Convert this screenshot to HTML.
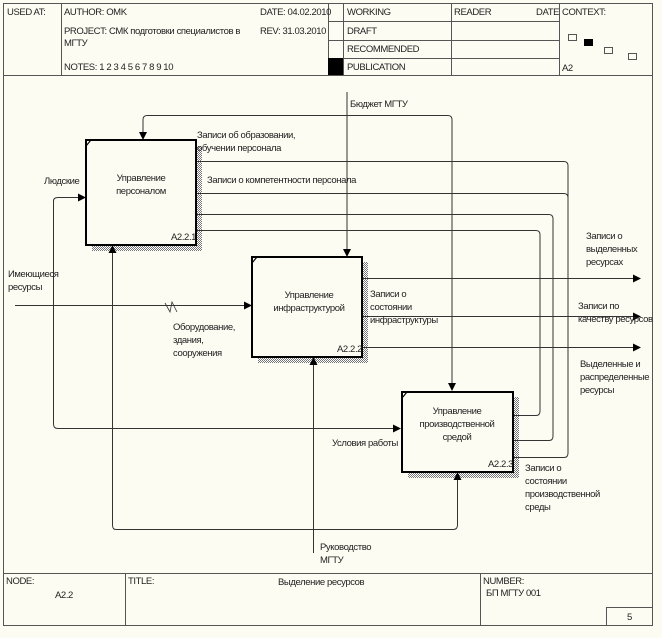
<!DOCTYPE html>
<html><head><meta charset="utf-8"><style>
html,body{margin:0;padding:0;background:#fdfcf3;}
svg{display:block;}
text{font-family:"Liberation Sans","DejaVu Sans",sans-serif;font-size:9.5px;fill:#222;letter-spacing:-0.4px;}
</style></head><body>
<svg width="662" height="638" viewBox="0 0 662 638" xmlns="http://www.w3.org/2000/svg">
<defs>
<pattern id="h" width="2" height="2" patternUnits="userSpaceOnUse"><rect width="2" height="2" fill="#fff"/><rect width="1" height="1" fill="#777"/><rect x="1" y="1" width="1" height="1" fill="#777"/></pattern>
<marker id="a" markerWidth="8" markerHeight="8" refX="7" refY="4" orient="auto" markerUnits="userSpaceOnUse"><path d="M0,0 L8,4 L0,8 z" fill="#000"/></marker>
</defs>
<rect x="0" y="0" width="662" height="638" fill="#fdfcf3"/>
<g stroke="#555" fill="none" stroke-width="1">
<rect x="3.5" y="3.5" width="649" height="622"/>
<line x1="3" y1="75.5" x2="653" y2="75.5"/>
<line x1="61.5" y1="3" x2="61.5" y2="75"/>
<line x1="328.5" y1="3" x2="328.5" y2="75"/>
<line x1="343.5" y1="3" x2="343.5" y2="75"/>
<line x1="451.5" y1="3" x2="451.5" y2="75"/>
<line x1="559.5" y1="3" x2="559.5" y2="75"/>
<line x1="328" y1="21.5" x2="559" y2="21.5"/>
<line x1="328" y1="40.5" x2="559" y2="40.5"/>
<line x1="328" y1="58.5" x2="559" y2="58.5"/>
<line x1="3" y1="573.5" x2="653" y2="573.5"/>
<line x1="125.5" y1="573" x2="125.5" y2="625"/>
<line x1="480.5" y1="573" x2="480.5" y2="625"/>
<rect x="606.5" y="607.5" width="46" height="18"/>
<rect x="568.5" y="34.5" width="8" height="6"/>
<rect x="604.5" y="47.5" width="8" height="6"/>
<rect x="628.5" y="53.5" width="8" height="6"/>
</g>
<rect x="328" y="58" width="15" height="17" fill="#000"/>
<rect x="584" y="39" width="9" height="7" fill="#000"/>
<text x="7" y="15">USED AT:</text>
<text x="64" y="15">AUTHOR:  OMK</text>
<text x="260" y="15">DATE:  04.02.2010</text>
<text x="64" y="34">PROJECT:  СМК подготовки специалистов в</text>
<text x="64" y="46">МГТУ</text>
<text x="260" y="34">REV:   31.03.2010</text>
<text x="64" y="70">NOTES:  1  2  3  4  5  6  7  8  9  10</text>
<text x="347" y="15">WORKING</text>
<text x="347" y="34">DRAFT</text>
<text x="347" y="52">RECOMMENDED</text>
<text x="347" y="70">PUBLICATION</text>
<text x="454" y="15">READER</text>
<text x="536" y="15">DATE</text>
<text x="562" y="15">CONTEXT:</text>
<text x="562" y="71">A2</text>
<text x="6" y="584">NODE:</text>
<text x="55" y="598">A2.2</text>
<text x="128" y="584">TITLE:</text>
<text x="278" y="585">Выделение  ресурсов</text>
<text x="483" y="584">NUMBER:</text>
<text x="486" y="596">БП МГТУ 001</text>
<text x="627" y="620">5</text>

<rect x="196" y="146" width="6" height="104" fill="url(#h)"/>
<rect x="92" y="245" width="110" height="6" fill="url(#h)"/>
<rect x="362" y="262" width="6" height="100" fill="url(#h)"/>
<rect x="258" y="357" width="110" height="6" fill="url(#h)"/>
<rect x="513" y="397" width="6" height="81" fill="url(#h)"/>
<rect x="408" y="472" width="111" height="6" fill="url(#h)"/>

<g stroke="#333" fill="none" stroke-width="1">
<line x1="347" y1="92" x2="347" y2="256" marker-end="url(#a)"/>
<path d="M347,115.5 H147 Q143,115.5 143,120 V139" marker-end="url(#a)"/>
<path d="M347,115.5 H448 Q452,115.5 452,120 V390" marker-end="url(#a)"/>
<path d="M196,161.5 H564 Q568,161.5 568,166 V316"/>
<path d="M196,193.5 H564 Q568,193.5 568,198 V316"/>
<path d="M196,214.5 H549 Q553,214.5 553,219 V278"/>
<path d="M196,230.5 H536 Q540,230.5 540,235 V347"/>
<line x1="362" y1="278.5" x2="640" y2="278.5" marker-end="url(#a)"/>
<line x1="362" y1="316.5" x2="640" y2="316.5" marker-end="url(#a)"/>
<line x1="362" y1="347.5" x2="640" y2="347.5" marker-end="url(#a)"/>
<path d="M513,415.5 H536 Q540,415.5 540,411 V347"/>
<path d="M513,440.5 H549 Q553,440.5 553,436 V278"/>
<path d="M513,457.5 H564 Q568,457.5 568,453 V316"/>
<line x1="15" y1="305.5" x2="251" y2="305.5" marker-end="url(#a)"/>
<path d="M53.5,305 V201 Q53.5,197.5 58,197.5 H85" marker-end="url(#a)"/>
<path d="M53.5,305 V424 Q53.5,428.5 58,428.5 H400" marker-end="url(#a)"/>
<line x1="313.5" y1="553" x2="313.5" y2="358" marker-end="url(#a)"/>
<path d="M313.5,529.5 H116 Q112.5,529.5 112.5,525 V246" marker-end="url(#a)"/>
<path d="M313.5,529.5 H453 Q457.5,529.5 457.5,525 V473" marker-end="url(#a)"/>
<path d="M165,303 L170,312 L172,302 L177,312" stroke-width="0.8"/>
</g>

<g stroke="#000" stroke-width="2" fill="#fdfcf3">
<rect x="86" y="140" width="110" height="105"/>
<rect x="252" y="257" width="110" height="100"/>
<rect x="402" y="392" width="111" height="80"/>
</g>
<g stroke="#000" stroke-width="1.2" fill="none">
<line x1="86" y1="146" x2="91" y2="140"/>
<line x1="252" y1="263" x2="257" y2="257"/>
<line x1="402" y1="398" x2="407" y2="392"/>
</g>
<text x="141" y="181" text-anchor="middle">Управление</text>
<text x="141" y="194" text-anchor="middle">персоналом</text>
<text x="171" y="240">A2.2.1</text>
<text x="309" y="298" text-anchor="middle">Управление</text>
<text x="309" y="311" text-anchor="middle">инфраструктурой</text>
<text x="337" y="352">A2.2.2</text>
<text x="457" y="414" text-anchor="middle">Управление</text>
<text x="457" y="427" text-anchor="middle">производственной</text>
<text x="457" y="440" text-anchor="middle">средой</text>
<text x="488" y="467">A2.2.3</text>

<text x="350" y="107">Бюджет МГТУ</text>
<text x="197" y="138">Записи об образовании,</text>
<text x="197" y="151">обучении персонала</text>
<text x="207" y="183">Записи о компетентности персонала</text>
<text x="44" y="184">Людские</text>
<text x="8" y="277">Имеющиеся</text>
<text x="8" y="290">ресурсы</text>
<text x="173" y="330">Оборудование,</text>
<text x="173" y="343">здания,</text>
<text x="173" y="356">сооружения</text>
<text x="370" y="297">Записи о</text>
<text x="370" y="310">состоянии</text>
<text x="370" y="323">инфраструктуры</text>
<text x="586" y="239">Записи о</text>
<text x="586" y="252">выделенных</text>
<text x="586" y="265">ресурсах</text>
<text x="578" y="309">Записи по</text>
<text x="578" y="322">качеству ресурсов</text>
<text x="580" y="367">Выделенные и</text>
<text x="580" y="380">распределенные</text>
<text x="580" y="393">ресурсы</text>
<text x="332" y="446">Условия работы</text>
<text x="525" y="471">Записи о</text>
<text x="525" y="484">состоянии</text>
<text x="525" y="497">производственной</text>
<text x="525" y="510">среды</text>
<text x="320" y="550">Руководство</text>
<text x="320" y="563">МГТУ</text>
</svg>
</body></html>
